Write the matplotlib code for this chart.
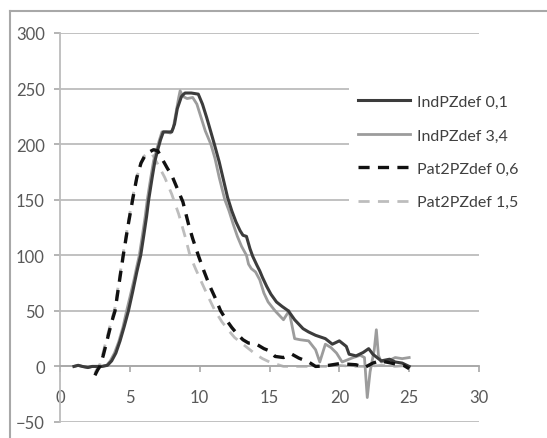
import matplotlib
matplotlib.use("Agg")
import matplotlib.pyplot as plt
from matplotlib.lines import Line2D

plt.rcParams['font.family'] = ['Lato', 'DejaVu Sans']
plt.rcParams['lines.scale_dashes'] = False

labels = ["IndPZdef 0,1", "IndPZdef 3,4", "Pat2PZdef 0,6", "Pat2PZdef 1,5"]

x_ind01 = [1.0, 1.3, 1.6, 2.0, 2.3, 2.6, 3.0, 3.4, 3.7, 4.0, 4.3, 4.6, 4.9, 5.2, 5.5, 5.78,
           6.0, 6.2, 6.35, 6.6, 6.8, 7.0, 7.2, 7.4, 7.7, 8.0, 8.2, 8.4, 8.7, 8.95, 9.4, 9.9,
           10.2, 10.5, 10.8, 11.05, 11.4, 11.7, 12.0, 12.3, 12.6, 12.9, 13.1, 13.35, 13.6,
           13.8, 14.1, 14.3, 14.5, 14.8, 15.1, 15.5, 15.9, 16.35, 16.8, 17.4, 17.8, 18.3,
           19.0, 19.5, 20.0, 20.5, 20.7, 21.2, 21.7, 22.1, 22.4, 23.0, 23.6, 24.0, 24.5, 25.0]
y_ind01 = [0, 1, 0, -1, 0, 0, 0, 1, 5, 12, 23, 36, 50, 67, 85, 100,
           118, 135, 150, 170, 185, 195, 204, 211, 211, 211, 218, 232, 243, 246, 246, 245,
           236, 224, 211, 200, 184, 168, 152, 140, 130, 122, 118, 117, 106,
           99, 91, 86, 80, 72, 65, 58, 54, 50, 42, 34, 31, 28,
           25, 20, 23, 18, 11, 9.5, 12.5, 16, 11, 5, 6.5, 4, 3, 0]

x_ind34 = [1.0, 1.3, 1.6, 2.0, 2.3, 2.6, 3.0, 3.34, 3.6, 3.9, 4.2, 4.5, 4.77, 5.0, 5.3, 5.5,
           5.68, 5.9, 6.1, 6.25, 6.5, 6.7, 6.92, 7.1, 7.3, 7.6, 7.9, 8.1, 8.3, 8.5, 8.6, 8.8,
           9.1, 9.5, 9.8, 10.1, 10.4, 10.8, 11.1, 11.4, 11.8, 12.1, 12.4, 12.7, 13.0, 13.35,
           13.5, 13.7, 14.0, 14.3, 14.6, 14.9, 15.4, 15.85, 16.0, 16.4, 16.8, 17.2, 17.8,
           18.3, 18.6, 19.0, 19.4, 19.8, 20.2, 20.6, 21.0, 21.5, 21.8, 22.0, 22.2, 22.5,
           22.65, 22.8, 23.0, 23.5, 24.0, 24.5, 25.0]
y_ind34 = [0, 1, 0, -1, 0, 0, 0, 1, 5, 12, 22, 35, 50, 62, 78, 90,
           100, 118, 135, 150, 170, 185, 195, 203, 211, 211, 210, 214, 228, 242, 248, 243,
           241, 242, 236, 224, 212, 200, 187, 170, 150, 140, 128, 117, 108, 100,
           92, 88, 85, 78, 66, 58, 50, 44, 42, 50, 25, 24, 23,
           15, 4, 20, 17, 12, 4, 6, 8, 10, 8, -28, -5, 15,
           33, 10, 4, 5, 8, 7, 8]

x_pat06 = [2.5, 2.7, 2.86, 3.1, 3.4, 3.7, 3.94, 4.2, 4.53, 4.85, 5.2, 5.5, 5.8, 6.1, 6.4,
           6.7, 7.0, 7.3, 7.7, 8.0, 8.4, 8.8, 9.2, 9.5, 9.9, 10.3, 10.7, 11.1, 11.5, 11.9,
           12.3, 12.7, 13.1, 13.5, 13.9, 14.2, 14.6, 15.0, 15.4, 16.0, 16.6, 17.1, 17.8,
           18.3, 19.0, 19.5, 20.0, 20.6, 21.2, 21.8, 22.4, 22.9, 23.5, 24.1, 24.6, 25.0]
y_pat06 = [-8, -3, 0, 10, 25, 40, 50, 72, 100, 125, 150, 170, 183, 190, 193,
           195, 194, 187, 178, 172, 160, 148, 128, 115, 100, 86, 73, 62, 50, 42,
           35, 29, 24, 21, 21, 19, 16, 14, 9, 8, 11, 7.5, 4,
           0, 0.5, 1.5, 2.5, 2, 1.5, -1, 3, 5, 3.6, 2, 1, -2]

x_pat15 = [2.5, 2.7, 2.86, 3.1, 3.4, 3.7, 3.94, 4.2, 4.53, 4.85, 5.2, 5.5, 5.8, 6.0, 6.3,
           6.6, 7.0, 7.5, 8.0, 8.5, 9.0, 9.3, 9.7, 10.2, 10.6, 11.1, 11.6, 12.1, 12.5,
           13.0, 13.5, 14.0, 14.5, 15.0, 15.5, 16.0, 17.0, 18.0, 19.0, 20.0, 21.0, 22.0,
           23.0, 24.0, 25.0]
y_pat15 = [-6, -1, 2, 13, 28, 42, 53, 75, 102, 127, 152, 170, 183, 189, 192,
           191, 182, 170, 155, 137, 115, 100, 88, 74, 63, 50, 40, 32, 26,
           21, 16, 11, 7, 4, 2, 0, 0, 0, 0, 1, 0, 0,
           1, 0, 1]

xticks = [0, 5, 10, 15, 20, 25, 30]
yticks = [-50, 0, 50, 100, 150, 200, 250, 300]

W, H = 547, 439
fig = plt.figure(figsize=(W / 100, H / 100), dpi=100)
fig.patch.set_facecolor('white')

ax = fig.add_axes([60 / W, (H - 423) / H, (479 - 60) / W, (423 - 34) / H])
ax.set_xlim(0, 30)
ax.set_ylim(-50, 300)

grid_c = '#bcbcbc'
ax.set_yticks(yticks)
ax.set_xticks(xticks)
ax.yaxis.grid(True, color=grid_c, linewidth=1.3)
ax.set_axisbelow(True)

for s in ['top', 'right']:
    ax.spines[s].set_visible(False)
ax.spines['left'].set_color(grid_c)
ax.spines['left'].set_linewidth(1.3)
ax.spines['bottom'].set_position(('data', 0))
ax.spines['bottom'].set_color('#a8a8a8')
ax.spines['bottom'].set_linewidth(1.3)

ax.tick_params(axis='both', colors='#a8a8a8', labelcolor='#595959', labelsize=12,
               direction='out', length=4, width=1.2)
ax.tick_params(axis='x', pad=12)
ax.tick_params(axis='y', pad=7)

ax.plot(x_ind01, y_ind01, color='#3c3c3c', lw=2.2, label=labels[0], zorder=4)
ax.plot(x_ind34, y_ind34, color='#9c9c9c', lw=2.0, label=labels[1], zorder=3)
ax.plot(x_pat06, y_pat06, color='#111111', lw=2.4, dashes=(8, 6), label=labels[2], zorder=5)
ax.plot(x_pat15, y_pat15, color='#bdbdbd', lw=2.0, dashes=(8, 6), label=labels[3], zorder=2)

leg = fig.legend(loc='center left', bbox_to_anchor=(349 / W, 1 - 153 / H),
                 frameon=True, fancybox=False, facecolor='white', edgecolor='none',
                 framealpha=1, fontsize=11.5, handlelength=3.3, handletextpad=0.4,
                 labelspacing=1.2, borderpad=0.55, borderaxespad=0)
for t in leg.get_texts():
    t.set_color('#404040')
leg.set_zorder(10)

# outer chart frame
fc = '#a8a8a8'
fig.add_artist(Line2D([10 / W, 10 / W], [0, 1 - 12 / H], transform=fig.transFigure, color=fc, lw=1.5))
fig.add_artist(Line2D([10 / W, 1], [1 - 12 / H, 1 - 12 / H], transform=fig.transFigure, color=fc, lw=1.5))

fig.savefig('out.png', dpi=100)
